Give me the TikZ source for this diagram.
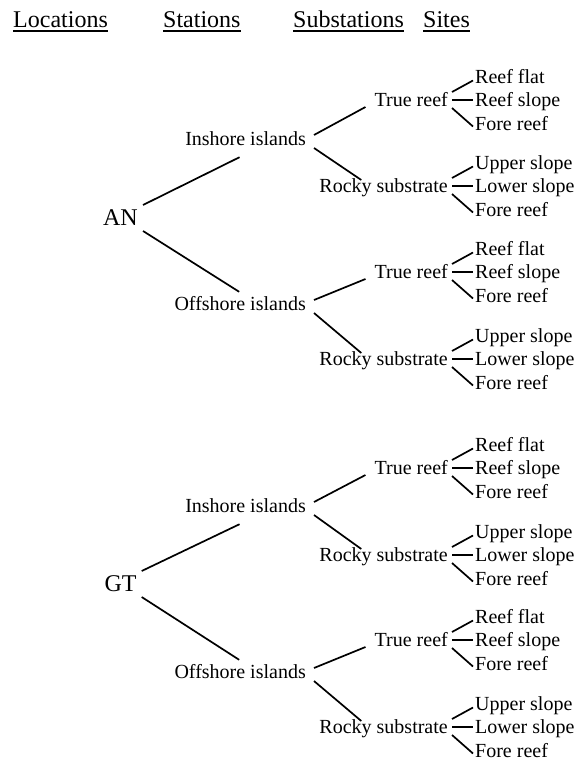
\documentclass[tikz,border=0pt]{standalone}
\usepackage{fontspec}
\setmainfont{Liberation Serif}
\usetikzlibrary{calc}

\begin{document}
\begin{tikzpicture}[x=1pt, y=-1pt,
  head/.style={font=\fontsize{24}{28}\selectfont, anchor=base west, inner sep=0pt},
  loc/.style={font=\fontsize{24}{28}\selectfont, inner sep=2pt,
              text height=19.9pt, text depth=4pt},
  lbl/.style={font=\fontsize{20}{24}\selectfont, inner sep=2pt,
              text height=16.6pt, text depth=3.4pt},
  station/.style={lbl, anchor=east},
  substation/.style={lbl, anchor=east},
  site/.style={lbl, anchor=west},
  link/.style={line width=1.7pt},
  underl/.style={line width=1.8pt},
]
  \useasboundingbox (0,0) rectangle (582,762);

  %% Column headings, underlined
  \foreach \h/\x/\txt in {hloc/13/Locations, hsta/163/Stations,
                          hsub/293/Substations, hsite/423/Sites} {
    \node[head] (\h) at (\x,28) {\txt};
    \draw[underl] ([shift={(0,3.3)}]\h.base west) -- ([shift={(0,3.3)}]\h.base east);
  }

  %% Locations
  \node[loc] (AN) at (120.5,218) {AN};
  \node[loc] (GT) at (120.5,584) {GT};

  %% Stations (right aligned)
  \foreach \loc/\yin/\yoff in {AN/139/304, GT/506/672} {
    \node[station] (\loc-in)  at (308,\yin)  {Inshore islands};
    \node[station] (\loc-off) at (308,\yoff) {Offshore islands};
    \draw[link] ([shift={(3,-13)}]\loc.east) -- ([shift={(-6,6)}]\loc-in.south);
    \draw[link] ([shift={(3,13)}]\loc.east)  -- ([shift={(-1,0)}]\loc-off.north);
  }

  %% Substations and their sites
  \foreach \st/\ytr/\yrs in {AN-in/100/186, AN-off/272/359,
                             GT-in/468/555, GT-off/640/727} {
    \node[substation] (\st-tr) at (450,\ytr) {True reef};
    \node[substation] (\st-rs) at (450,\yrs) {Rocky substrate};
    \draw[link] ([shift={(6,-4)}]\st.east) -- ([shift={(-7,7)}]\st-tr.west);
    \draw[link] ([shift={(6,9)}]\st.east)  -- ([shift={(44,-6)}]\st-rs.west);

    \foreach \sub/\y/\sa/\sb/\sc in {tr/\ytr/Reef flat/Reef slope/Fore reef,
                                     rs/\yrs/Upper slope/Lower slope/Fore reef} {
      \node[site] (\st-\sub-1) at (473,\y-23.5) {\sa};
      \node[site] (\st-\sub-2) at (473,\y)      {\sb};
      \node[site] (\st-\sub-3) at (473,\y+23.5) {\sc};
      \draw[link] ([shift={(2,-8)}]\st-\sub.east) -- ([shift={(0,4)}]\st-\sub-1.west);
      \draw[link] ([shift={(2,0)}]\st-\sub.east)  -- (\st-\sub-2.west);
      \draw[link] ([shift={(2,8)}]\st-\sub.east)  -- ([shift={(0,3)}]\st-\sub-3.west);
    }
  }
\end{tikzpicture}
\end{document}
